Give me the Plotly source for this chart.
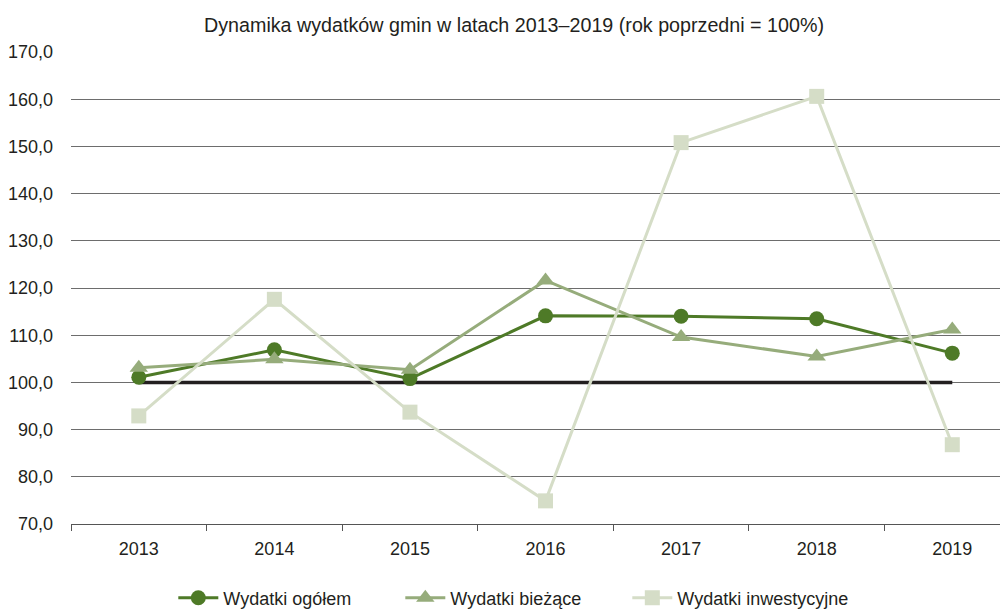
import plotly.graph_objects as go

years = ["2013", "2014", "2015", "2016", "2017", "2018", "2019"]
ogolem = [101.1, 106.9, 100.8, 114.1, 114.0, 113.5, 106.2]
biezace = [103.1, 104.9, 102.7, 121.6, 109.6, 105.5, 111.2]
inwestycyjne = [92.9, 117.6, 93.7, 74.9, 150.8, 160.6, 86.8]
baseline = 100.0
y_ticks = [70, 80, 90, 100, 110, 120, 130, 140, 150, 160, 170]

FONT = "Liberation Sans, Arial, sans-serif"
c_dark = "#4e7a27"
c_mid = "#96ac7b"
c_light = "#d5ddc7"

fig = go.Figure()
fig.add_trace(go.Scatter(x=years, y=[baseline] * len(years), mode="lines",
                         line=dict(color="#231f20", width=3.5),
                         showlegend=False, hoverinfo="skip"))
fig.add_trace(go.Scatter(x=years, y=ogolem, name="Wydatki ogółem", mode="lines+markers",
                         line=dict(color=c_dark, width=3),
                         marker=dict(symbol="circle", size=15, color=c_dark)))
fig.add_trace(go.Scatter(x=years, y=biezace, name="Wydatki bieżące", mode="lines+markers",
                         line=dict(color=c_mid, width=3),
                         marker=dict(symbol="triangle-up", size=16, color=c_mid)))
fig.add_trace(go.Scatter(x=years, y=inwestycyjne, name="Wydatki inwestycyjne", mode="lines+markers",
                         line=dict(color=c_light, width=3),
                         marker=dict(symbol="square", size=15, color=c_light)))

fig.update_layout(
    width=1008, height=609,
    margin=dict(l=63, r=0, t=44, b=93),
    paper_bgcolor="white", plot_bgcolor="white",
    separators=", ",
    font=dict(family=FONT, size=18, color="#231f20"),
    title=dict(text="Dynamika wydatków gmin w latach 2013–2019 (rok poprzedni = 100%)",
               x=0.502, xanchor="center", y=0.972, yanchor="middle",
               font=dict(family=FONT, size=19.7, color="#231f20")),
    xaxis=dict(type="category", range=[-0.5, 6.47], showgrid=False, automargin=False,
               showline=True, linecolor="#555555", linewidth=1,
               ticks="outside", tickson="boundaries", ticklen=6, tickcolor="#555555",
               ticklabelstandoff=8, zeroline=False),
    yaxis=dict(range=[70, 170], tickvals=y_ticks, tickformat=".1f", automargin=False,
               showgrid=True, gridcolor="#6d6d6d", gridwidth=1,
               showline=False, zeroline=False, ticks="", ticklabelstandoff=17),
    legend=dict(orientation="h", xref="container", yref="container",
                x=0.164, xanchor="left", y=0.031, yanchor="middle",
                font=dict(family=FONT, size=18, color="#231f20"),
                itemwidth=40, tracegroupgap=0,
                entrywidth=172, entrywidthmode="pixels"),
    showlegend=True,
)

fig.write_html("out.html")
